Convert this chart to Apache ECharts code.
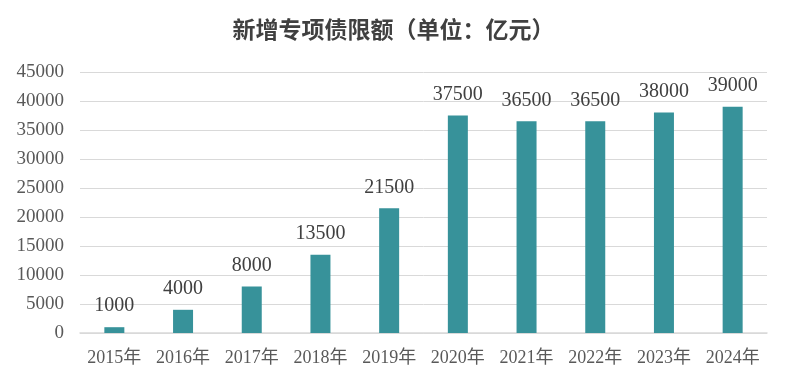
<!DOCTYPE html>
<html><head><meta charset="utf-8">
<script src="https://cdn.jsdelivr.net/npm/echarts@6/dist/echarts.min.js"></script>
<style>html,body{margin:0;padding:0;background:#fff}#c{width:787px;height:385px}</style>
</head><body><div id="c"></div>
<script>
const categories = ['2015年','2016年','2017年','2018年','2019年','2020年','2021年','2022年','2023年','2024年'];
const values = [1000,4000,8000,13500,21500,37500,36500,36500,38000,39000];
const titleText = '新增专项债限额（单位：亿元）';
const chart = echarts.init(document.getElementById('c'));
const serif = '"Liberation Serif","DejaVu Serif","Noto Sans CJK SC",serif';
chart.setOption({
  animation:false,
  title:{text:titleText,left:'center',top:13,textStyle:{fontFamily:'"Noto Sans CJK SC",sans-serif',fontSize:23,fontWeight:'bold',color:'#404040'}},
  grid:{left:80,right:20,top:72,bottom:52},
  xAxis:{type:'category',data:categories,
    axisLine:{lineStyle:{color:'#d9d9d9',width:1.5}},axisTick:{show:false},
    axisLabel:{color:'#595959',fontSize:18,fontFamily:serif,margin:16,interval:0}},
  yAxis:{type:'value',min:0,max:45000,interval:5000,
    axisLine:{show:false},axisTick:{show:false},
    splitLine:{lineStyle:{color:'#d9d9d9',width:1}},
    axisLabel:{color:'#595959',fontSize:19,fontFamily:serif,margin:16,formatter:v=>String(v)}},
  series:[{type:'bar',data:values,barWidth:20,itemStyle:{color:'#37929a'},
    label:{show:true,position:'top',distance:11,color:'#404040',fontSize:20,fontFamily:serif}}]
});
</script></body></html>
